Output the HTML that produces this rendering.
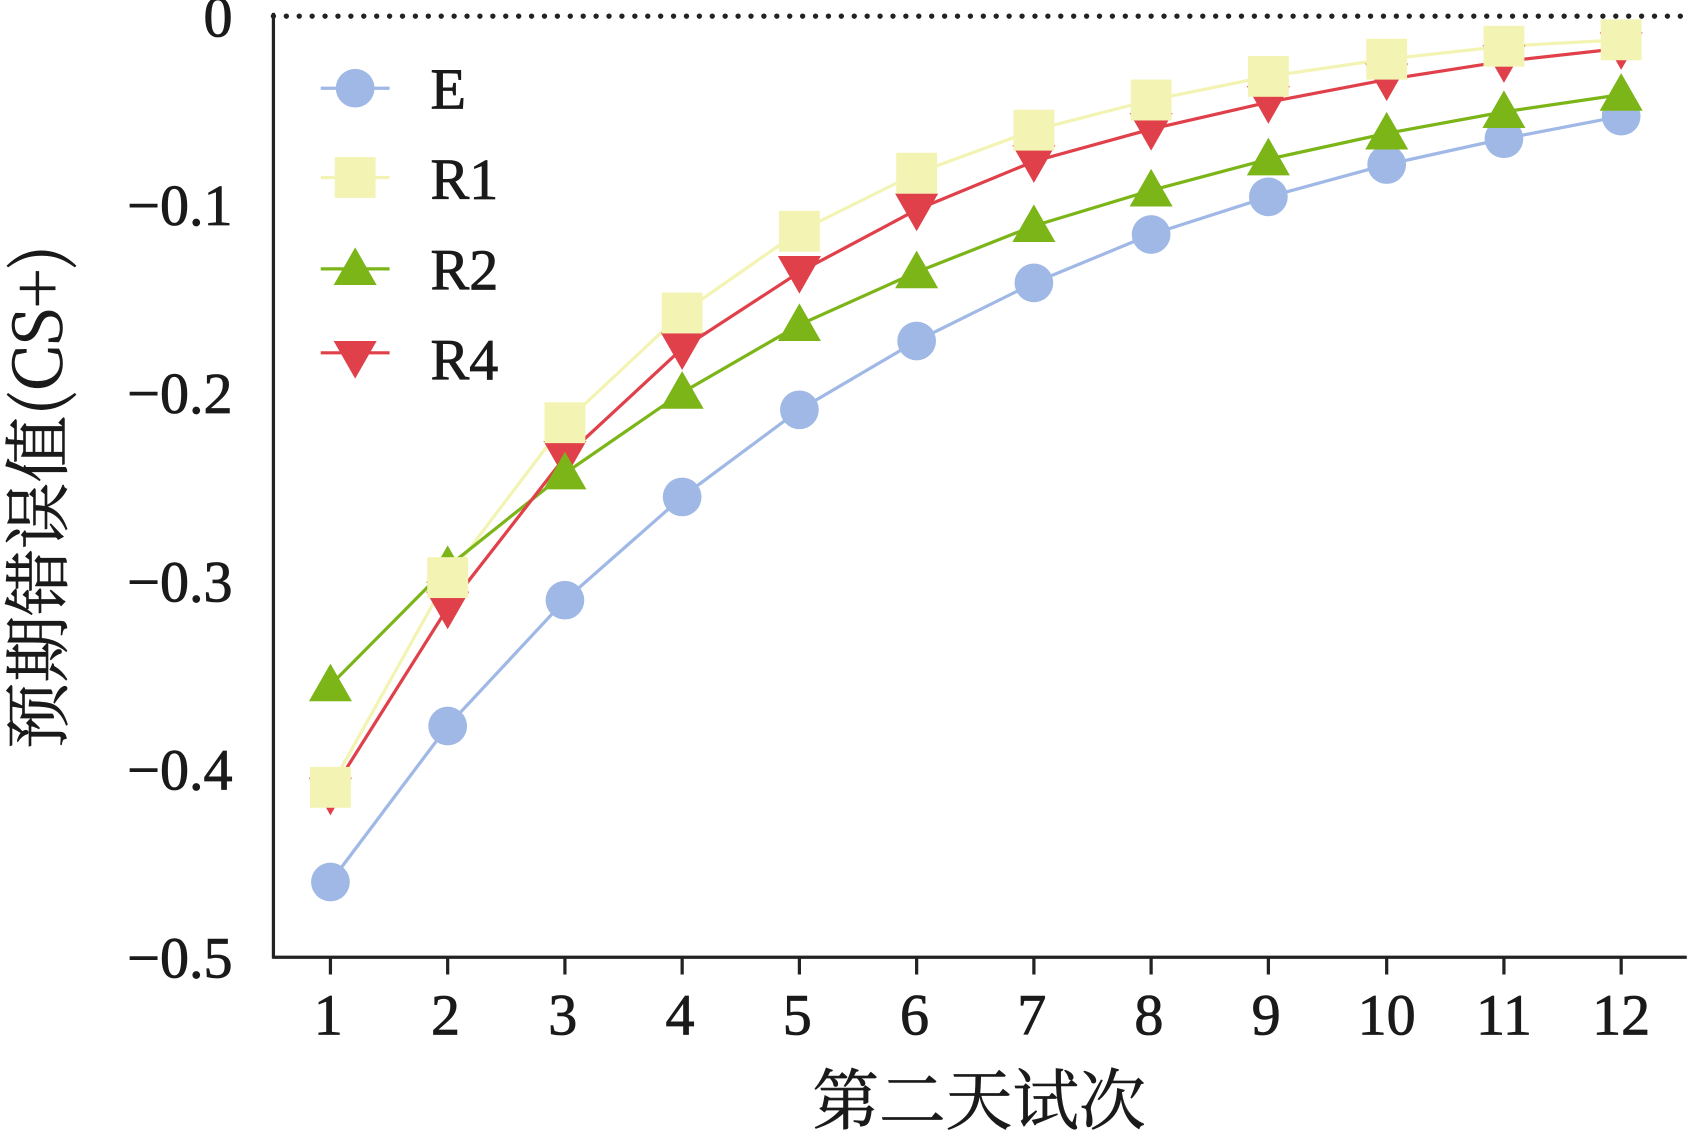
<!DOCTYPE html>
<html><head><meta charset="utf-8"><style>
html,body{margin:0;padding:0;background:#fff;}
svg{display:block;}
text{font-family:"Liberation Serif","Noto Serif CJK SC",serif;fill:#1a1a1a;stroke:#1a1a1a;stroke-width:0.8;}
.cjk{font-family:"Noto Serif CJK SC","Liberation Serif",serif;stroke-width:0.6;}
</style></head><body>
<svg width="1687" height="1138" viewBox="0 0 1568 1058" xmlns="http://www.w3.org/2000/svg">
<defs>
<g id="c"><circle r="18" fill="#a0b8e6"/></g>
<g id="s"><rect x="-19" y="-19" width="38" height="38" fill="#f3f4b3"/></g>
<g id="u"><polygon points="0,-20 20,15 -20,15" fill="#7cb518"/></g>
<g id="d"><polygon points="0,20 20,-15 -20,-15" fill="#e0404a"/></g>
</defs>
<line x1="254" y1="15" x2="1568" y2="15" stroke="#222" stroke-width="5" stroke-dasharray="0 12" stroke-linecap="round"/>
<line x1="254" y1="12" x2="254" y2="891" stroke="#222" stroke-width="3"/>
<line x1="253" y1="890" x2="1568" y2="890" stroke="#222" stroke-width="3"/>
<g stroke="#222" stroke-width="3">
<line x1="307" y1="890" x2="307" y2="906"/><line x1="416" y1="890" x2="416" y2="906"/><line x1="525" y1="890" x2="525" y2="906"/><line x1="634" y1="890" x2="634" y2="906"/><line x1="743" y1="890" x2="743" y2="906"/><line x1="852" y1="890" x2="852" y2="906"/><line x1="961" y1="890" x2="961" y2="906"/><line x1="1070" y1="890" x2="1070" y2="906"/><line x1="1179" y1="890" x2="1179" y2="906"/><line x1="1289" y1="890" x2="1289" y2="906"/><line x1="1398" y1="890" x2="1398" y2="906"/><line x1="1507" y1="890" x2="1507" y2="906"/>
</g>
<g font-size="54" text-anchor="end">
<text x="216" y="34">0</text><text x="216" y="209">−0.1</text><text x="216" y="384">−0.2</text><text x="216" y="559">−0.3</text><text x="216" y="734">−0.4</text><text x="216" y="909">−0.5</text>
</g>
<g font-size="54" text-anchor="middle">
<text x="305" y="962">1</text><text x="414" y="962">2</text><text x="523" y="962">3</text><text x="632" y="962">4</text><text x="741" y="962">5</text><text x="850" y="962">6</text><text x="959" y="962">7</text><text x="1068" y="962">8</text><text x="1177" y="962">9</text><text x="1289" y="962">10</text><text x="1398" y="962">11</text><text x="1507" y="962">12</text>
</g>
<text class="cjk" x="910" y="1045" font-size="62" text-anchor="middle">第二天试次</text>
<text class="cjk" transform="translate(57,462) rotate(-90)" font-size="62" text-anchor="middle">预期错误值(CS+)</text>

<polyline fill="none" stroke="#a0b8e6" stroke-width="3" points="307,820 416,675 525,558 634,462 743,381 852,317 961,263 1070,218 1179,183 1289,153 1398,129 1507,108"/>
<polyline fill="none" stroke="#f3f4b3" stroke-width="3" points="307,732 416,537 525,393 634,291 743,215 852,161 961,121 1070,93 1179,71 1289,55 1398,43 1507,37"/>
<polyline fill="none" stroke="#7cb518" stroke-width="3" points="307,637 416,527 525,440 634,365 743,302 852,253 961,210 1070,177 1179,148 1289,124 1398,104 1507,88"/>
<polyline fill="none" stroke="#e0404a" stroke-width="3" points="307,738 416,565 525,425 634,324 743,253 852,195 961,150 1070,120 1179,95 1289,74 1398,57 1507,45"/>

<g>
<use href="#c" x="307" y="820"/><use href="#c" x="416" y="675"/><use href="#c" x="525" y="558"/><use href="#c" x="634" y="462"/><use href="#c" x="743" y="381"/><use href="#c" x="852" y="317"/><use href="#c" x="961" y="263"/><use href="#c" x="1070" y="218"/><use href="#c" x="1179" y="183"/><use href="#c" x="1289" y="153"/><use href="#c" x="1398" y="129"/><use href="#c" x="1507" y="108"/>
<use href="#d" x="307" y="738"/><use href="#d" x="416" y="565"/><use href="#d" x="525" y="425"/><use href="#d" x="634" y="324"/><use href="#d" x="743" y="253"/><use href="#d" x="852" y="195"/><use href="#d" x="961" y="150"/><use href="#d" x="1070" y="120"/><use href="#d" x="1179" y="95"/><use href="#d" x="1289" y="74"/><use href="#d" x="1398" y="57"/><use href="#d" x="1507" y="45"/>
<use href="#u" x="307" y="637"/><use href="#u" x="416" y="527"/><use href="#u" x="525" y="440"/><use href="#u" x="634" y="365"/><use href="#u" x="743" y="302"/><use href="#u" x="852" y="253"/><use href="#u" x="961" y="210"/><use href="#u" x="1070" y="177"/><use href="#u" x="1179" y="148"/><use href="#u" x="1289" y="124"/><use href="#u" x="1398" y="104"/><use href="#u" x="1507" y="88"/>
<use href="#s" x="307" y="732"/><use href="#s" x="416" y="537"/><use href="#s" x="525" y="393"/><use href="#s" x="634" y="291"/><use href="#s" x="743" y="215"/><use href="#s" x="852" y="161"/><use href="#s" x="961" y="121"/><use href="#s" x="1070" y="93"/><use href="#s" x="1179" y="71"/><use href="#s" x="1289" y="55"/><use href="#s" x="1398" y="43"/><use href="#s" x="1507" y="37"/>
</g>

<line x1="298" y1="82" x2="362" y2="82" stroke="#a0b8e6" stroke-width="3"/><use href="#c" x="330" y="82"/>
<line x1="298" y1="165" x2="362" y2="165" stroke="#f3f4b3" stroke-width="3"/><use href="#s" x="330" y="165"/>
<line x1="298" y1="250" x2="362" y2="250" stroke="#7cb518" stroke-width="3"/><use href="#u" x="330" y="250"/>
<line x1="298" y1="328" x2="362" y2="328" stroke="#e0404a" stroke-width="3"/><use href="#d" x="330" y="332"/>
<g font-size="54"><text x="400" y="101">E</text><text x="400" y="185">R1</text><text x="400" y="269">R2</text><text x="400" y="353">R4</text></g>
</svg>
</body></html>
